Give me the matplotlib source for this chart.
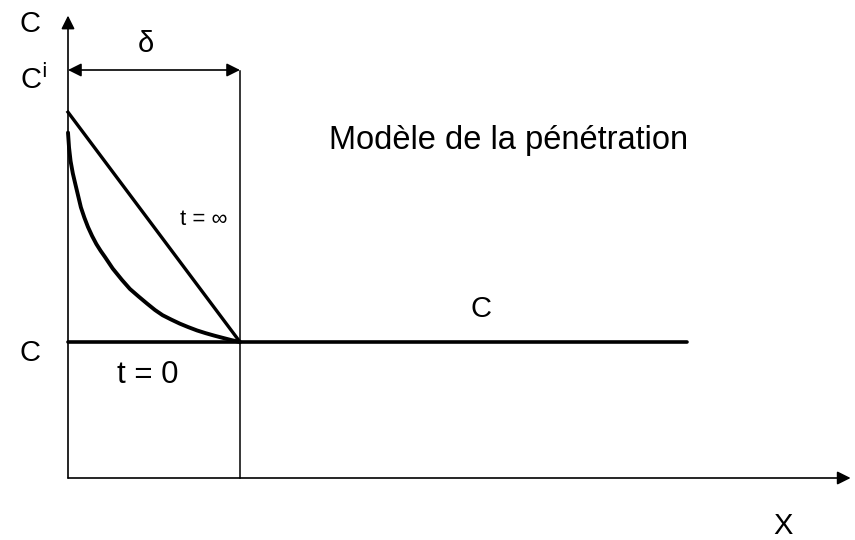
import matplotlib
matplotlib.use("Agg")
import matplotlib.pyplot as plt

plt.rcParams['font.family'] = ['Liberation Sans', 'DejaVu Sans']

# distance in units of delta, concentration in units of bulk C
delta = 1.0
c_bulk = 1.0
c_i = 2.69
x_end = 3.6

# t -> infinity : linear profile
x_lin = [0.0, delta]
c_lin = [c_i, c_bulk]

# penetration profile
x_pen = [0.0, 0.006, 0.015, 0.028, 0.041, 0.058, 0.075, 0.095, 0.116, 0.14, 0.165, 0.19, 0.215,
         0.26, 0.314, 0.36, 0.41, 0.46, 0.506, 0.55, 0.60, 0.65, 0.698, 0.75, 0.80, 0.85, 0.895, 0.95, 1.0]
c_pen = [2.54, 2.43, 2.33, 2.24, 2.17, 2.08, 1.99, 1.915, 1.846, 1.78, 1.72, 1.67, 1.625,
         1.54, 1.456, 1.39, 1.335, 1.282, 1.235, 1.197, 1.165, 1.135, 1.11, 1.085, 1.065, 1.047, 1.032, 1.014, 1.0]

fig = plt.figure(figsize=(8.55, 5.4), dpi=100)
ax = fig.add_axes([0, 0, 1, 1])
ax.set_xlim(-68 / 172, 787 / 172)
ax.set_ylim(-62 / 136, 478 / 136)
ax.axis('off')

k = 'black'
arr = dict(color=k, lw=1.2, mutation_scale=20, shrinkA=0, shrinkB=0)
# axes with arrows
ax.annotate('', xy=(0, 3.4), xytext=(0, 0), arrowprops=dict(arrowstyle='-|>', **arr))
ax.annotate('', xy=(4.55, 0), xytext=(0, 0), arrowprops=dict(arrowstyle='-|>', **arr))
# delta
ax.annotate('', xy=(0, 3.0), xytext=(delta, 3.0), arrowprops=dict(arrowstyle='<|-|>', **arr))
ax.plot([delta, delta], [0, 2.99], color=k, lw=1.1)

ax.plot([0, x_end], [c_bulk, c_bulk], color=k, lw=2.6, solid_capstyle='round')
ax.plot(x_lin, c_lin, color=k, lw=2.4)
ax.plot(x_pen, c_pen, color=k, lw=2.8, solid_joinstyle='round', solid_capstyle='round')

fs = 21
ax.text(-0.22, 3.34, 'C', fontsize=fs, ha='center', va='center')
ax.text(-0.20, 2.93, 'C$^{\\mathsf{i}}$', fontsize=fs, ha='center', va='center')
ax.text(0.45, 3.19, 'δ', fontsize=fs, ha='center', va='center')
ax.text(2.56, 2.48, 'Modèle de la pénétration', fontsize=23.5, ha='center', va='center')
ax.text(0.79, 1.90, 't = ∞', fontsize=16, ha='center', va='center')
ax.text(2.40, 1.24, 'C', fontsize=fs, ha='center', va='center')
ax.text(-0.22, 0.92, 'C', fontsize=fs, ha='center', va='center')
ax.text(0.465, 0.76, 't = 0', fontsize=22.5, ha='center', va='center')
ax.text(4.16, -0.35, 'X', fontsize=fs, ha='center', va='center')

fig.savefig('out.png', dpi=100, facecolor='white')
